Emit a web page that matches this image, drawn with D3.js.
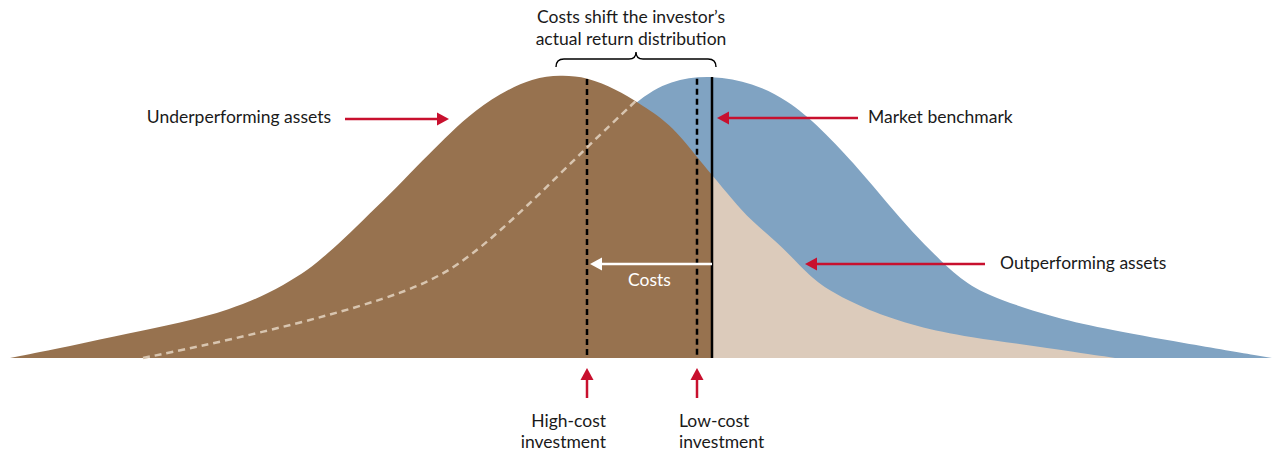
<!DOCTYPE html>
<html lang="en">
<head>
<meta charset="utf-8">
<title>Costs shift the investor's actual return distribution</title>
<script src="https://d3js.org/d3.v7.min.js"></script>
<style>
  body { margin: 0; background: #fff; font-family: Lato, 'Open Sans', sans-serif; }
  text { fill: #1a1a1a; font-size: 17.5px; }
  .market { fill: #80a3c2; }
  .investor-left { fill: #97724f; }
  .investor-right { fill: #dccbbb; }
  .hidden-market { fill: none; stroke: #d8c5b0; stroke-width: 2.5; stroke-dasharray: 7,5; }
  .vline { stroke: #000; stroke-width: 2.5; }
  .vline.dashed { stroke-dasharray: 6,4; }
  .brace { fill: none; stroke: #000; stroke-width: 1.4; }
</style>
</head>
<body>
<script>
  // returns relative to the market benchmark, density scaled so the market peak = 1
  var marketReturns = [-11.38, -10.3, -8.98, -7.64, -6.58, -5.7, -4.9, -3.7, -2.5, -1.5, -0.84, 0, 0.82, 1.5, 2.16, 2.96, 3.5, 4.02, 4.56, 5.1, 5.76, 6.76, 7.76, 9.42, 11.2];
  var marketDensity = [0, 0.039, 0.092, 0.152, 0.208, 0.265, 0.346, 0.534, 0.746, 0.912, 0.982, 1, 0.972, 0.912, 0.816, 0.664, 0.548, 0.442, 0.346, 0.258, 0.205, 0.148, 0.106, 0.053, 0];

  var investorReturns = [-14.04, -12.84, -11.64, -10.64, -9.64, -8.84, -8.3, -7.9, -7.38, -6.84, -6.3, -5.78, -5.34, -4.9, -4.24, -3.58, -3.04, -2.5, -1.9, -1.5, -0.84, -0.3, 0, 0.42, 0.76, 1.42, 1.96, 2.42, 3.1, 4.1, 5.1, 6.76, 8.06];
  var investorDensity = [0, 0.042, 0.088, 0.124, 0.17, 0.23, 0.286, 0.336, 0.417, 0.512, 0.604, 0.7, 0.777, 0.852, 0.936, 0.989, 1.0, 0.993, 0.947, 0.905, 0.83, 0.71, 0.647, 0.558, 0.488, 0.392, 0.286, 0.23, 0.17, 0.11, 0.074, 0.035, 0];

  var BENCHMARK = 0, LOW_COST = -0.3, HIGH_COST = -2.5, CROSSING = -1.5;

  var titleLines = ["Costs shift the investor\u2019s", "actual return distribution"];
  var highCostLabel = ["High-cost", "investment"];
  var lowCostLabel = ["Low-cost", "investment"];

  var RED = "#c8102e";
  var width = 1275, height = 453;

  var market = marketReturns.map(function(r, i) { return {r: r, d: marketDensity[i]}; });
  var investor = investorReturns.map(function(r, i) { return {r: r, d: investorDensity[i]}; });

  var x = d3.scaleLinear().domain([-14, 11.2]).range([12, 1272]);
  var y = d3.scaleLinear().domain([0, 1]).range([358, 75]);

  var marketAt = d3.scaleLinear().domain(marketReturns).range(marketDensity).clamp(true);
  var investorAt = d3.scaleLinear().domain(investorReturns).range(investorDensity).clamp(true);
  function envelopeAt(r) { return Math.max(marketAt(r), investorAt(r)); }

  var curve = d3.curveBasis;

  var area = d3.area()
      .x(function(d) { return x(d.r); })
      .y0(y(0))
      .y1(function(d) { return y(d.d); })
      .curve(curve);

  var line = d3.line()
      .x(function(d) { return x(d.r); })
      .y(function(d) { return y(d.d); })
      .curve(curve);

  var svg = d3.select("body").append("svg")
      .attr("width", width)
      .attr("height", height);

  var defs = svg.append("defs");
  defs.append("clipPath").attr("id", "clip-left")
    .append("rect").attr("x", 0).attr("y", 0).attr("width", x(BENCHMARK)).attr("height", height);
  defs.append("clipPath").attr("id", "clip-right")
    .append("rect").attr("x", x(BENCHMARK)).attr("y", 0).attr("width", width - x(BENCHMARK)).attr("height", height);

  svg.append("path").datum(market).attr("class", "market").attr("d", area);
  svg.append("path").datum(investor).attr("class", "investor-left").attr("clip-path", "url(#clip-left)").attr("d", area);
  svg.append("path").datum(investor).attr("class", "investor-right").attr("clip-path", "url(#clip-right)").attr("d", area);

  // part of the market curve hidden behind the investor's distribution
  svg.append("path")
      .datum(market.filter(function(d) { return d.r <= CROSSING; }))
      .attr("class", "hidden-market")
      .attr("d", line);

  // vertical markers
  [[HIGH_COST, true], [LOW_COST, true], [BENCHMARK, false]].forEach(function(v) {
    svg.append("line")
        .attr("class", v[1] ? "vline dashed" : "vline")
        .attr("x1", x(v[0])).attr("x2", x(v[0]))
        .attr("y1", y(envelopeAt(v[0])) + 2).attr("y2", y(0));
  });

  function arrow(x1, y1, x2, y2, color) {
    var a = Math.atan2(y2 - y1, x2 - x1), len = 12, hw = 6.5;
    var bx = x2 - len * Math.cos(a), by = y2 - len * Math.sin(a);
    svg.append("line")
        .attr("x1", x1).attr("y1", y1).attr("x2", bx).attr("y2", by)
        .attr("stroke", color).attr("stroke-width", 2.5);
    svg.append("polygon")
        .attr("points", [
          [x2, y2],
          [bx + hw * Math.sin(a), by - hw * Math.cos(a)],
          [bx - hw * Math.sin(a), by + hw * Math.cos(a)]
        ].map(function(p) { return p.join(","); }).join(" "))
        .attr("fill", color);
  }

  // costs arrow inside the chart
  arrow(x(BENCHMARK), 264, x(HIGH_COST) + 3, 264, "#fff");
  svg.append("text")
      .attr("x", (x(HIGH_COST) + x(BENCHMARK)) / 2).attr("y", 286)
      .attr("text-anchor", "middle").style("fill", "#fff")
      .text("Costs");

  // side annotations
  arrow(345, 119, 449, 119, RED);
  svg.append("text").attr("x", 331).attr("y", 123).attr("text-anchor", "end").text("Underperforming assets");

  arrow(858, 118, x(BENCHMARK) + 5, 118, RED);
  svg.append("text").attr("x", 868).attr("y", 123).text("Market benchmark");

  arrow(985, 264, 805, 264, RED);
  svg.append("text").attr("x", 1000).attr("y", 269).text("Outperforming assets");

  // bottom annotations
  arrow(x(HIGH_COST), 398, x(HIGH_COST), 368, RED);
  arrow(x(LOW_COST), 398, x(LOW_COST), 368, RED);

  var hc = svg.append("text").attr("text-anchor", "end");
  highCostLabel.forEach(function(t, i) {
    hc.append("tspan").attr("x", x(HIGH_COST) + 19).attr("y", 427 + i * 21).text(t);
  });
  var lc = svg.append("text");
  lowCostLabel.forEach(function(t, i) {
    lc.append("tspan").attr("x", x(LOW_COST) - 18).attr("y", 427 + i * 21).text(t);
  });

  // brace and title
  var bl = x(HIGH_COST) - 31, br = x(BENCHMARK) + 4, bm = (bl + br) / 2, by = 59;
  svg.append("path")
      .attr("class", "brace")
      .attr("d", "M" + bl + "," + (by + 8) + " Q" + bl + "," + by + " " + (bl + 8) + "," + by +
                 " L" + (bm - 7) + "," + by + " Q" + bm + "," + by + " " + bm + "," + (by - 7) +
                 " Q" + bm + "," + by + " " + (bm + 7) + "," + by +
                 " L" + (br - 8) + "," + by + " Q" + br + "," + by + " " + br + "," + (by + 8));

  var title = svg.append("text").attr("text-anchor", "middle");
  titleLines.forEach(function(t, i) {
    title.append("tspan").attr("x", 631).attr("y", 23 + i * 22).text(t);
  });
</script>
</body>
</html>
